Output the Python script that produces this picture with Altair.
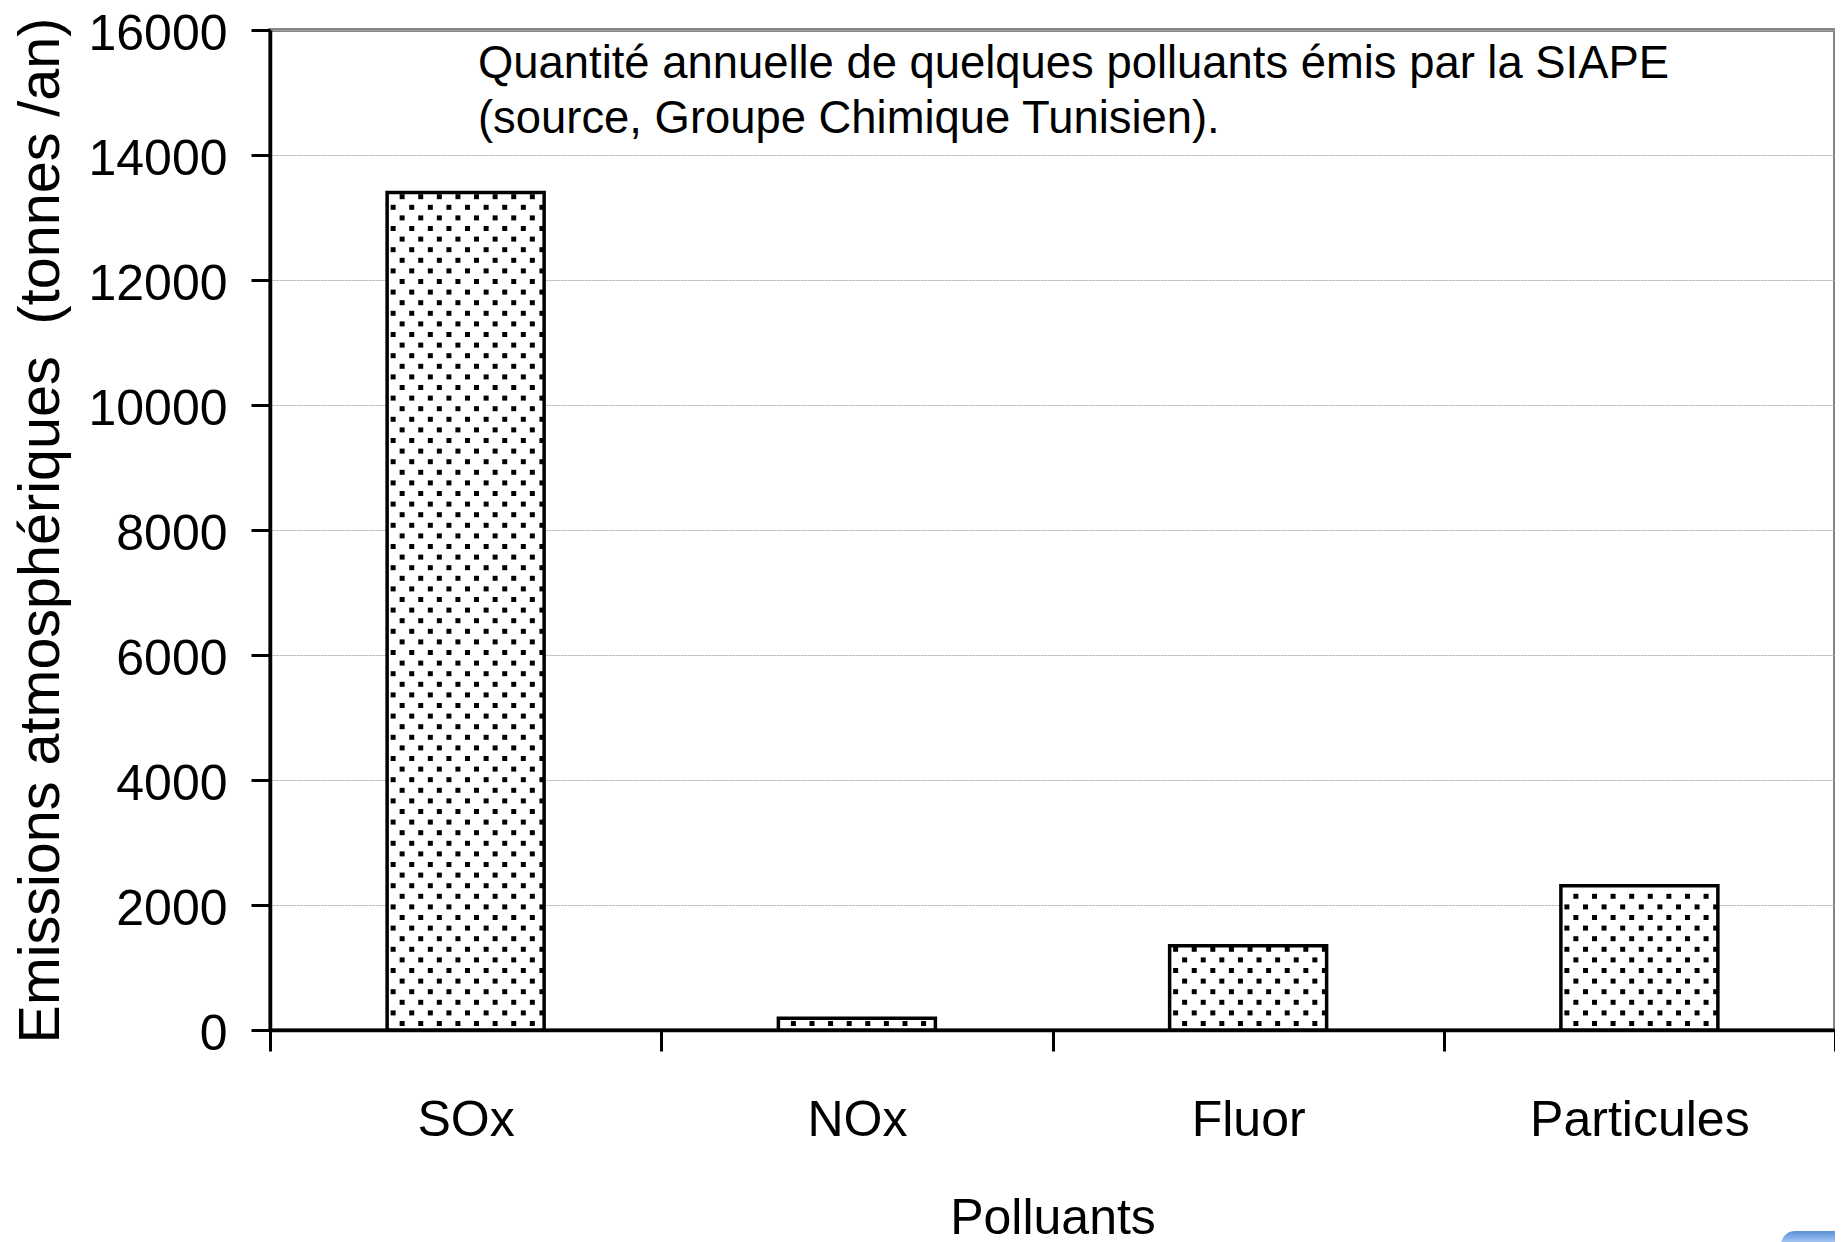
import altair as alt
import numpy as np
import pandas as pd

categories = ["SOx", "NOx", "Fluor", "Particules"]
values = [13400, 190, 1350, 2310]
y_ticks = [0, 2000, 4000, 6000, 8000, 10000, 12000, 14000, 16000]
note = ["Quantité annuelle de quelques polluants émis par la SIAPE",
        "(source, Groupe Chimique Tunisien)."]

W, H = 1565, 1000
BW = W / 4
BAR = 157
YMAX = 16000
FONT = "Liberation Sans"

df = pd.DataFrame({"cat": categories, "val": values})

# dotted hatch texture of the bars (the reference's pattern fill)
rows = []
px_per_unit = H / YMAX
for cat, val in zip(categories, values):
    top = val * px_per_unit
    r = 0
    yy = 6.5
    while yy < top - 3:
        start = (BW - BAR) / 2 + (15 if r % 2 == 0 else 6)
        xx = start
        while xx < (BW + BAR) / 2 - 2:
            rows.append({"cat": cat, "off": xx, "yv": yy / px_per_unit})
            xx += 18.6
        yy += 10.6
        r += 1
dots = pd.DataFrame(rows)

xscale = alt.Scale(domain=categories, paddingInner=0, paddingOuter=0)
yscale = alt.Scale(domain=[0, YMAX], nice=False)

bars = alt.Chart(df).mark_bar(width=BAR, fill="white", stroke="black", strokeWidth=3.5).encode(
    x=alt.X("cat:N", scale=xscale, sort=categories, axis=alt.Axis(
        title="Polluants", labelAngle=0, labelFont=FONT, labelFontSize=50, labelColor="black",
        labelPadding=44, labelLimit=400, tickBand="extent", tickSize=21, tickWidth=3,
        tickColor="black", domainColor="black", domainWidth=3.5, titleFont=FONT,
        titleFontSize=50, titleFontWeight="normal", titleColor="black", titlePadding=48,
        grid=False)),
    y=alt.Y("val:Q", scale=yscale, axis=alt.Axis(
        title="Emissions atmosphériques\u00a0\u00a0(tonnes /an)", values=y_ticks, format="d",
        labelFont=FONT, labelFontSize=50, labelColor="black", labelPadding=24, labelOffset=4,
        tickSize=19, tickWidth=3, tickColor="black", domainColor="black", domainWidth=3.5,
        titleFont=FONT, titleFontSize=57.5, titleFontWeight="normal", titleColor="black",
        titlePadding=17, grid=True, gridColor="#a8a8a8", gridWidth=1, gridDash=[2, 1])),
)

texture = alt.Chart(dots).mark_square(size=25, color="black", opacity=1).encode(
    x=alt.X("cat:N", scale=xscale, sort=categories),
    xOffset=alt.XOffset("off:Q", scale=alt.Scale(domain=[0, BW], range=[0, BW])),
    y=alt.Y("yv:Q", scale=yscale, axis=None),
)

note_df = pd.DataFrame({"t": note, "i": [0, 1]})
text = alt.Chart(note_df).mark_text(font=FONT, fontSize=45.4, align="left", baseline="alphabetic", color="black").encode(
    x=alt.value(208),
    y=alt.Y("i:Q", scale=alt.Scale(domain=[0, 1], range=[48, 103]), axis=None),
    text="t:N",
)

# the blue rounded shape cut by the bottom-right corner of the reference
corner = alt.Chart(pd.DataFrame({"a": [0]})).mark_rect(
    cornerRadiusTopLeft=14, clip=False,
    color=alt.Gradient(gradient="linear", x1=0, y1=0, x2=0, y2=1,
                       stops=[alt.GradientStop(color="#5b8fd9", offset=0),
                              alt.GradientStop(color="#a5c8f5", offset=0.3)]),
).encode(x=alt.value(1511), x2=alt.value(1600), y=alt.value(1201), y2=alt.value(1240))

chart = alt.layer(bars, texture, text, corner).properties(
    width=W, height=H,
    autosize=alt.AutoSizeParams(type="none"),
    padding={"left": 262, "top": 22, "right": 0, "bottom": 212},
).configure_view(stroke="#868686", strokeWidth=4).resolve_scale(y="independent")

chart.save("out.html", embed_options={"renderer": "svg", "actions": False})
